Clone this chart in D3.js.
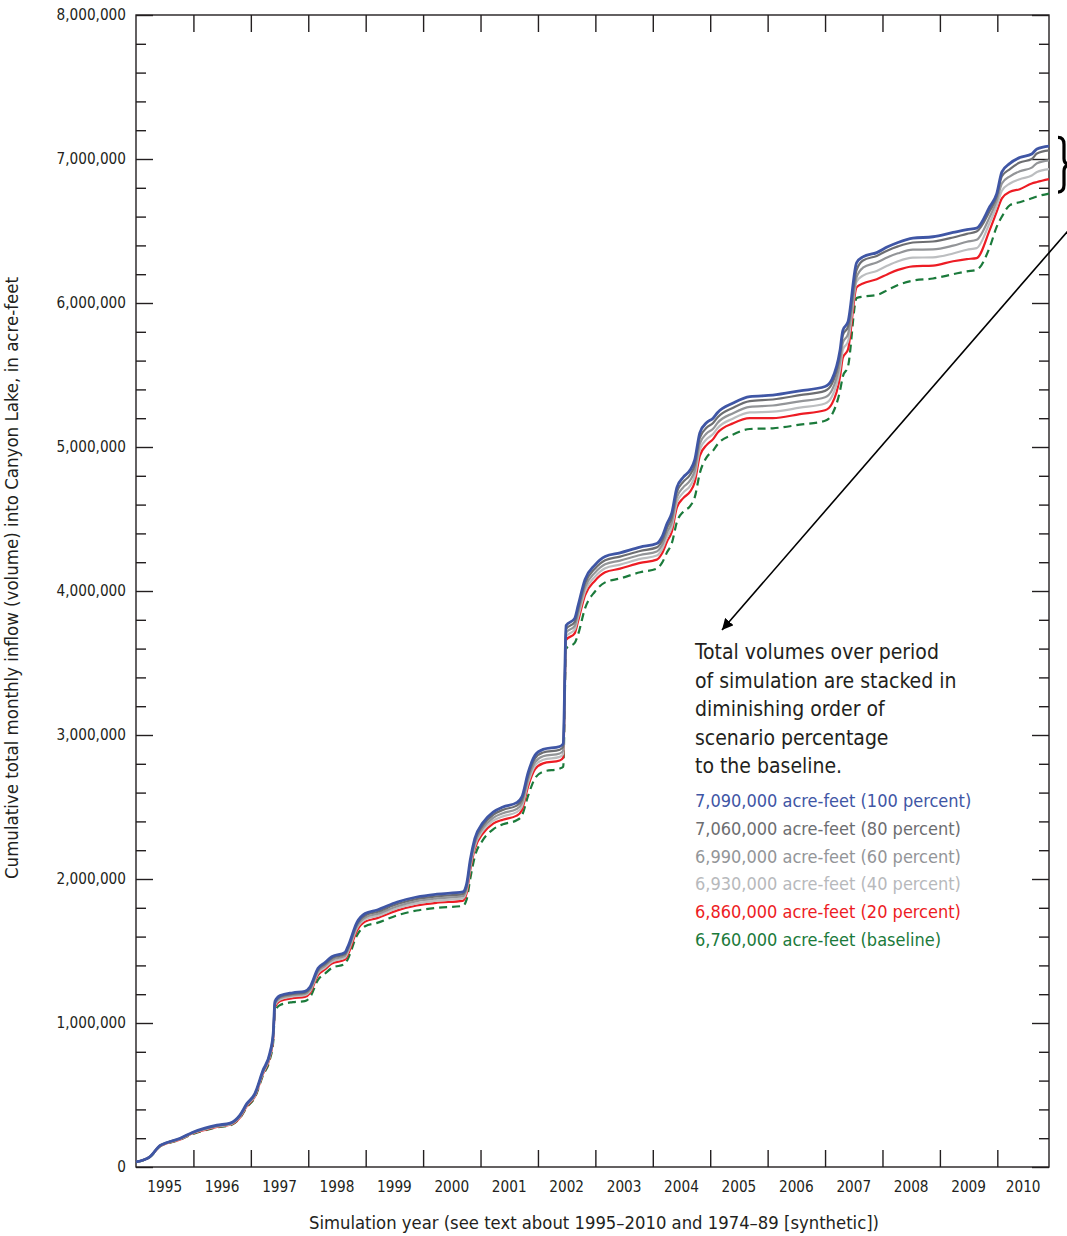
<!DOCTYPE html>
<html lang="en">
<head>
<meta charset="utf-8">
<title>Cumulative inflow into Canyon Lake</title>
<script src="https://d3js.org/d3.v7.min.js"></script>
<style>
  body { margin: 0; background: #fff; }
  svg text { font-family: "Liberation Sans Narrow", "DejaVu Sans Condensed", "Arial Narrow", sans-serif; fill: #231f20; }
</style>
</head>
<body>
<div id="chart"></div>
<script>

// time points (decimal year), shared by every scenario
var years = [1995.00, 1995.24, 1995.42, 1995.54, 1995.77, 1995.98, 1996.20, 1996.41, 1996.64, 1996.81,
  1996.93, 1997.07, 1997.21, 1997.33, 1997.39, 1997.42, 1997.51, 1997.73, 1997.94, 1998.03,
  1998.17, 1998.29, 1998.41, 1998.64, 1998.69, 1998.85, 1998.99, 1999.20, 1999.55, 1999.89,
  2000.24, 2000.69, 2000.76, 2000.82, 2000.90, 2001.04, 2001.22, 2001.39, 2001.63, 2001.72,
  2001.83, 2001.95, 2002.09, 2002.38, 2002.44, 2002.49, 2002.64, 2002.70, 2002.82, 2002.99,
  2003.17, 2003.43, 2003.78, 2004.07, 2004.16, 2004.25, 2004.33, 2004.42, 2004.53, 2004.65,
  2004.73, 2004.82, 2004.94, 2005.05, 2005.13, 2005.40, 2005.69, 2006.09, 2006.56, 2007.00,
  2007.12, 2007.26, 2007.31, 2007.40, 2007.55, 2007.66, 2007.90, 2008.09, 2008.27, 2008.53,
  2008.88, 2009.23, 2009.47, 2009.64, 2009.87, 2009.99, 2010.08, 2010.22, 2010.39, 2010.60,
  2010.69, 2010.90];

// cumulative inflow, in thousand acre-feet
var pct100 = [35, 70, 150, 170, 200, 240, 270, 290, 305, 360,
  440, 510, 670, 790, 930, 1150, 1190, 1210, 1220, 1250,
  1380, 1420, 1460, 1490, 1530, 1700, 1760, 1785, 1840, 1875,
  1895, 1910, 1970, 2130, 2280, 2390, 2465, 2500, 2530, 2570,
  2740, 2860, 2900, 2920, 2940, 3760, 3810, 3900, 4080, 4180,
  4240, 4265, 4305, 4330, 4375, 4470, 4540, 4720, 4790, 4840,
  4910, 5100, 5170, 5200, 5240, 5305, 5350, 5360, 5390, 5420,
  5470, 5670, 5810, 5870, 6280, 6320, 6350, 6390, 6420, 6450,
  6460, 6490, 6510, 6520, 6670, 6760, 6910, 6970, 7010, 7035,
  7070, 7090];

var pct80 = [35, 70, 149, 169, 198, 238, 267, 287, 302, 356,
  436, 505, 664, 783, 923, 1142, 1182, 1202, 1211, 1240,
  1369, 1409, 1449, 1478, 1518, 1687, 1747, 1771, 1826, 1861,
  1880, 1895, 1954, 2114, 2263, 2372, 2446, 2480, 2510, 2549,
  2718, 2838, 2878, 2898, 2918, 3736, 3785, 3874, 4054, 4154,
  4214, 4239, 4278, 4303, 4347, 4440, 4509, 4688, 4758, 4807,
  4876, 5065, 5135, 5166, 5207, 5273, 5319, 5330, 5360, 5390,
  5439, 5637, 5776, 5836, 6230, 6295, 6327, 6365, 6393, 6420,
  6427, 6455, 6480, 6496, 6640, 6740, 6880, 6930, 6975, 7000,
  7038, 7060];

var pct60 = [35, 70, 148, 168, 196, 236, 264, 284, 299, 352,
  432, 500, 658, 776, 915, 1134, 1173, 1193, 1202, 1230,
  1358, 1397, 1437, 1466, 1505, 1673, 1733, 1757, 1811, 1846,
  1865, 1880, 1938, 2097, 2245, 2353, 2425, 2457, 2486, 2525,
  2693, 2812, 2852, 2872, 2892, 3710, 3758, 3847, 4026, 4126,
  4186, 4211, 4250, 4275, 4318, 4408, 4476, 4652, 4720, 4768,
  4836, 5024, 5095, 5127, 5169, 5235, 5279, 5288, 5317, 5346,
  5394, 5588, 5725, 5784, 6180, 6245, 6281, 6318, 6345, 6370,
  6372, 6398, 6425, 6439, 6600, 6710, 6830, 6880, 6915, 6940,
  6970, 6990];

var pct40 = [35, 70, 147, 167, 194, 234, 261, 281, 296, 348,
  428, 495, 652, 769, 908, 1125, 1164, 1184, 1193, 1220,
  1346, 1385, 1425, 1454, 1492, 1660, 1720, 1743, 1797, 1831,
  1850, 1865, 1922, 2080, 2228, 2335, 2405, 2435, 2464, 2502,
  2670, 2788, 2828, 2848, 2868, 3685, 3732, 3820, 3998, 4098,
  4158, 4183, 4223, 4247, 4289, 4377, 4443, 4616, 4683, 4730,
  4797, 4983, 5055, 5090, 5132, 5198, 5240, 5245, 5273, 5302,
  5350, 5540, 5675, 5733, 6150, 6190, 6223, 6260, 6290, 6315,
  6317, 6344, 6370, 6381, 6560, 6675, 6780, 6830, 6860, 6885,
  6910, 6930];

var pct20 = [35, 70, 145, 165, 192, 232, 258, 278, 293, 344,
  422, 490, 645, 760, 895, 1110, 1152, 1172, 1181, 1208,
  1332, 1372, 1412, 1440, 1475, 1642, 1704, 1728, 1782, 1816,
  1835, 1848, 1904, 2060, 2208, 2315, 2385, 2412, 2440, 2478,
  2645, 2763, 2803, 2823, 2843, 3660, 3706, 3792, 3970, 4070,
  4130, 4155, 4195, 4218, 4260, 4345, 4410, 4580, 4645, 4690,
  4755, 4940, 5015, 5055, 5100, 5165, 5200, 5200, 5228, 5255,
  5300, 5485, 5620, 5678, 6110, 6135, 6165, 6200, 6230, 6255,
  6260, 6290, 6305, 6312, 6510, 6635, 6727, 6773, 6790, 6830,
  6840, 6860];

var baseline = [35, 68, 143, 163, 190, 228, 255, 275, 289, 340,
  416, 482, 635, 745, 870, 1080, 1125, 1145, 1152, 1178,
  1300, 1342, 1382, 1410, 1445, 1610, 1672, 1695, 1748, 1781,
  1800, 1813, 1860, 2000, 2155, 2270, 2345, 2380, 2408, 2440,
  2580, 2700, 2745, 2767, 2780, 3600, 3640, 3700, 3880, 3995,
  4060, 4087, 4130, 4155, 4195, 4270, 4330, 4480, 4550, 4590,
  4650, 4820, 4930, 4975, 5020, 5087, 5125, 5130, 5155, 5182,
  5225, 5390, 5490, 5560, 6035, 6045, 6055, 6090, 6125, 6155,
  6170, 6200, 6220, 6230, 6390, 6530, 6600, 6680, 6700, 6727,
  6740, 6760];

var seriesNames = ["baseline", "20 percent", "40 percent", "60 percent", "80 percent", "100 percent"];
var seriesColors = ["#1b7a3b", "#ed1c24", "#bcbec0", "#939598", "#6d6e71", "#3f56a5"];

var legendLabels = ["7,090,000 acre-feet (100 percent)", "7,060,000 acre-feet (80 percent)",
  "6,990,000 acre-feet (60 percent)", "6,930,000 acre-feet (40 percent)",
  "6,860,000 acre-feet (20 percent)", "6,760,000 acre-feet (baseline)"];
var legendColors = ["#3f56a5", "#6d6e71", "#939598", "#b7b9bc", "#ed1c24", "#1b7a3b"];

var noteLines = ["Total volumes over period", "of simulation are stacked in", "diminishing order of",
  "scenario percentage", "to the baseline."];

var yearLabels = d3.range(1995, 2011);

var margin = {top: 15, right: 18, bottom: 69, left: 136},
  width = 1067 - margin.left - margin.right,
  height = 1236 - margin.top - margin.bottom;

var svg = d3.select("#chart")
  .append("svg")
    .attr("width", 1067)
    .attr("height", 1236)
  .append("g")
    .attr("transform", "translate(" + margin.left + "," + margin.top + ")");

var x = d3.scaleLinear().domain([1995, 2010.9]).range([0, width]);
var y = d3.scaleLinear().domain([0, 8000]).range([height, 0]);

var ink = "#231f20";
var majors = d3.range(0, 8001, 1000);
var minors = d3.range(0, 8001, 200).filter(function(d) { return d % 1000 !== 0; });
var yearTicks = d3.range(1996, 2011);

// tick marks, all pointing into the plot
function tickGroup(axis, tx, ty) {
  var g = svg.append("g")
    .attr("transform", "translate(" + tx + "," + ty + ")")
    .call(axis);
  g.select(".domain").remove();
  g.selectAll(".tick line").attr("stroke", ink).attr("stroke-width", 1.4);
  g.selectAll("text").remove();
  return g;
}
tickGroup(d3.axisLeft(y).tickValues(majors).tickSize(-17), 0, 0);
tickGroup(d3.axisLeft(y).tickValues(minors).tickSize(-10), 0, 0);
tickGroup(d3.axisRight(y).tickValues(majors).tickSize(-17), width, 0);
tickGroup(d3.axisRight(y).tickValues(minors).tickSize(-10), width, 0);
tickGroup(d3.axisTop(x).tickValues(yearTicks).tickSize(-17), 0, 0);
tickGroup(d3.axisBottom(x).tickValues(yearTicks).tickSize(-17), 0, height);

// y labels
var yLab = svg.append("g")
  .call(d3.axisLeft(y).tickValues(majors).tickSize(0).tickPadding(10)
    .tickFormat(function(d) { return d3.format(",")(d * 1000); }));
yLab.select(".domain").remove();
yLab.selectAll("text").attr("font-size", 15.2).attr("fill", ink)
  .style("font-family", null);

// year labels, centred in each year
svg.append("g").selectAll("text")
  .data(yearLabels)
  .enter().append("text")
    .attr("x", function(d) { return x((d + Math.min(d + 1, 2010.9)) / 2); })
    .attr("y", height + 25)
    .attr("text-anchor", "middle")
    .attr("font-size", 15.2)
    .text(function(d) { return d; });

// frame
svg.append("rect")
  .attr("width", width).attr("height", height)
  .attr("fill", "none").attr("stroke", ink).attr("stroke-width", 1.4);

// scenario lines
var allSeries = [baseline, pct20, pct40, pct60, pct80, pct100];
var line = d3.line()
  .x(function(d, i) { return x(years[i]); })
  .y(function(d) { return y(d); })
  .curve(d3.curveMonotoneX);

svg.append("g").selectAll("path")
  .data(allSeries)
  .enter().append("path")
    .attr("d", line)
    .attr("fill", "none")
    .attr("stroke", function(d, i) { return seriesColors[i]; })
    .attr("stroke-width", function(d, i) { return i == 5 ? 2.8 : 2.2; })
    .attr("stroke-dasharray", function(d, i) { return i == 0 ? "8,5" : null; })
    .attr("stroke-linejoin", "round");

// axis titles
svg.append("text")
  .attr("transform", "translate(" + (18 - margin.left) + "," + (578 - margin.top) + ") rotate(-90)")
  .attr("text-anchor", "middle")
  .attr("font-size", 18.5)
  .text("Cumulative total monthly inflow (volume) into Canyon Lake, in acre-feet");

svg.append("text")
  .attr("x", 594 - margin.left)
  .attr("y", height + 62)
  .attr("text-anchor", "middle")
  .attr("font-size", 18.3)
  .text("Simulation year (see text about 1995\u20132010 and 1974\u201389 [synthetic])");

// note and legend
var noteX = 695 - margin.left;
svg.append("g").selectAll("text")
  .data(noteLines)
  .enter().append("text")
    .attr("x", noteX)
    .attr("y", function(d, i) { return 644 + i * 28.6; })
    .attr("font-size", 21)
    .text(function(d) { return d; });

svg.append("g").selectAll("text")
  .data(legendLabels)
  .enter().append("text")
    .attr("x", noteX)
    .attr("y", function(d, i) { return 792 + i * 27.8; })
    .attr("font-size", 18)
    .style("fill", function(d, i) { return legendColors[i]; })
    .text(function(d) { return d; });

// arrow from the brace to the note
svg.append("defs").append("marker")
  .attr("id", "head")
  .attr("viewBox", "0 0 10 10")
  .attr("refX", 10).attr("refY", 5)
  .attr("markerWidth", 7).attr("markerHeight", 7)
  .attr("orient", "auto")
  .append("path").attr("d", "M0,0L10,5L0,10z").attr("fill", "#000");

svg.append("line")
  .attr("x1", width + 31).attr("y1", 217 - margin.top)
  .attr("x2", 722 - margin.left).attr("y2", 630 - margin.top)
  .attr("stroke", "#000").attr("stroke-width", 1.6)
  .attr("marker-end", "url(#head)");

// brace beside the end values
var bx = width + 9, bt = y(7150), bb = y(6770), bm = (bt + bb) / 2;
svg.append("path")
  .attr("d", "M" + bx + "," + bt +
    " Q" + (bx + 6) + "," + bt + " " + (bx + 6) + "," + (bt + 7) +
    " L" + (bx + 6) + "," + (bm - 6) +
    " Q" + (bx + 6) + "," + bm + " " + (bx + 13) + "," + bm +
    " Q" + (bx + 6) + "," + bm + " " + (bx + 6) + "," + (bm + 6) +
    " L" + (bx + 6) + "," + (bb - 7) +
    " Q" + (bx + 6) + "," + bb + " " + bx + "," + bb)
  .attr("fill", "none").attr("stroke", "#000").attr("stroke-width", 3.2);

</script>
</body>
</html>
